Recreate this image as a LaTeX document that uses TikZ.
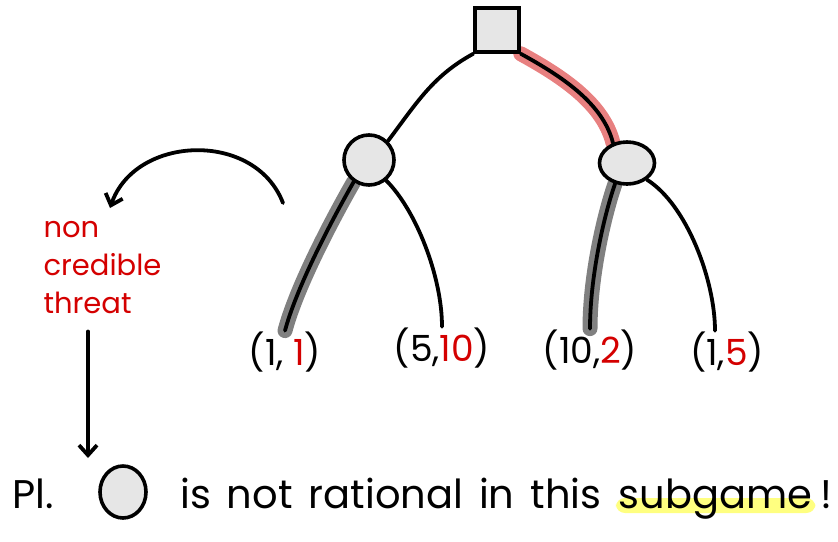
\documentclass[tikz,border=0pt]{standalone}
\usepackage{fontspec}
\setmainfont{Poppins}
\usetikzlibrary{shapes.geometric, arrows.meta, positioning, backgrounds}
\definecolor{payred}{HTML}{D40000}
\definecolor{nodegray}{HTML}{E6E6E6}
\definecolor{redmark}{HTML}{E88080}
\definecolor{graymark}{HTML}{808080}
\definecolor{yellowmark}{HTML}{FFFF80}
\newcommand{\wordgap}{\spaceskip=0.4em\relax}

\begin{document}
\begin{tikzpicture}[
        x=1pt, y=-1pt,
        stroke/.style={line width=3.8pt, line cap=round},
        decision/.style={rectangle, draw, fill=nodegray, minimum size=44pt, line width=3.6pt},
        chance/.style={ellipse, draw, fill=nodegray, line width=3.6pt},
        payoff/.style={font=\fontsize{36}{42}\selectfont, inner xsep=2pt, inner ysep=1pt},
        word/.style={font=\fontsize{40}{46}\selectfont\wordgap, inner sep=0pt},
        note/.style={font=\fontsize{29}{38}\selectfont, text=payred, align=left},
        pointer/.style={stroke, -{Straight Barb[length=10pt, width=18pt, line width=3.8pt]}},
        subgame/.style={line width=15pt, line cap=round, draw=graymark},
        chosen/.style={line width=15pt, line cap=round, draw=redmark},
        marker/.style={fill=yellowmark, rounded corners=9pt, text height=0.6em, text depth=0.1em, inner xsep=3pt, inner ysep=4pt}
    ]
        \useasboundingbox (0,0) rectangle (838,541);

        % tree
        \node[decision] (root) at (497,30) {};
        \node[chance, minimum width=50pt, minimum height=50pt] (p1) at (369,160) {};
        \node[chance, minimum width=55pt, minimum height=42pt] (p2) at (627,163) {};

        \node[payoff] (leaf1) at (285,352) {(1, \textcolor{payred}{1})};
        \node[payoff] (leaf2) at (442,348) {(5,\textcolor{payred}{10})};
        \node[payoff] (leaf3) at (590,350) {(10,\textcolor{payred}{2})};
        \node[payoff] (leaf4) at (727,352) {(1,\textcolor{payred}{5})};

        \begin{scope}[on background layer]
            \draw[chosen, xshift=3pt, yshift=3pt] (root.south east) .. controls +(40,22) and +(-10,-40) .. (p2.125);
            \draw[subgame, xshift=-3pt] (p1.235) .. controls +(-20,35) and +(12,-45) .. (leaf1.north);
            \draw[subgame, xshift=-3pt] (p2.240) .. controls +(-12,35) and +(0,-50) .. (leaf3.north);
        \end{scope}

        \draw[stroke] (root.south west) .. controls +(-40,22) and +(30,-40) .. (p1.north east);
        \draw[stroke] (root.south east) .. controls +(40,22) and +(-10,-40) .. (p2.125);
        \draw[stroke] (p1.235) .. controls +(-20,35) and +(12,-45) .. (leaf1.north);
        \draw[stroke] (p1.-50) .. controls +(30,30) and +(0,-50) .. (leaf2.north);
        \draw[stroke] (p2.240) .. controls +(-12,35) and +(0,-50) .. (leaf3.north);
        \draw[stroke] (p2.-40) .. controls +(40,25) and +(0,-50) .. ([xshift=-12pt]leaf4.north);

        % threat
        \node[note, anchor=north west] (threat) at (40,218) {non\\credible\\threat};
        \coordinate (bend) at (283,203);
        \coordinate (aim) at (110,208);
        \coordinate (tip) at (88,458);
        \draw[pointer] (bend) .. controls (255,130) and (135,135) .. (aim);
        \draw[pointer, shorten <=14pt] (threat.south -| tip) -- (tip);

        % conclusion
        \node[word, anchor=base west] (player) at (12,508) {Pl.};
        \node[chance, minimum width=46pt, minimum height=52pt] (p1copy) at (123,492) {};
        \node[word, anchor=base west] (sentence) at (180,508) {is not rational in this};
        \node[word, marker, base right=14pt of sentence] (sub) {subgame};
        \node[word, base right=5pt of sub] (bang) {!};
    \end{tikzpicture}
\end{document}
